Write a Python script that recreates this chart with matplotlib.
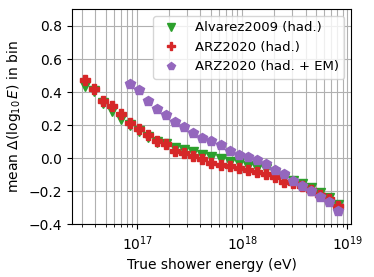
import numpy as np
import matplotlib
matplotlib.use('Agg')
from matplotlib import pyplot as plt

# bin edges in log10(E), points drawn at the lower edge
log_e = np.linspace(16.5, 19, 30)[:-1]
energy = 10 ** log_e

alvarez_had = [0.435, 0.405, 0.334, 0.283, 0.237, 0.202, 0.162, 0.131, 0.101, 0.085,
               0.062, 0.052, 0.038, 0.020, 0.008, -0.002, -0.020, -0.030, -0.045, -0.057,
               -0.068, -0.090, -0.118, -0.135, -0.158, -0.178, -0.210, -0.240, -0.283]
arz_had = [0.475, 0.420, 0.348, 0.314, 0.265, 0.216, 0.176, 0.140, 0.107, 0.089,
           0.044, 0.030, 0.016, -0.004, -0.030, -0.043, -0.047, -0.057, -0.071, -0.083,
           -0.094, -0.114, -0.142, -0.152, -0.170, -0.195, -0.221, -0.248, -0.290]
# had. + EM starts at the sixth bin
arz_had_em = [0.450, 0.411, 0.348, 0.300, 0.263, 0.222, 0.186, 0.152, 0.125, 0.107,
              0.078, 0.045, 0.022, 0.007, -0.012, -0.036, -0.069, -0.098, -0.138, -0.165,
              -0.201, -0.233, -0.264, -0.320]

fig = plt.figure(figsize=(3.74, 2.77), dpi=100)
ax = fig.add_axes([0.1925, 0.19, 0.746, 0.776])

ax.plot(energy, alvarez_had, 'v', color='C2', markersize=7, label='Alvarez2009 (had.)')
ax.plot(energy, arz_had, 'P', color='C3', markersize=7, label='ARZ2020 (had.)')
ax.plot(energy[5:], arz_had_em, 'p', color='C4', markersize=7.5, label='ARZ2020 (had. + EM)')

ax.set_xscale('log')
ax.set_ylim(-0.4, 0.9)
ax.set_yticks([-0.4, -0.2, 0.0, 0.2, 0.4, 0.6, 0.8])
ax.grid(which='both', axis='x')
ax.grid(which='major', axis='y')
ax.set_axisbelow(True)
ax.set_xlabel('True shower energy (eV)')
ax.set_ylabel(r'mean $\Delta(\log_{10}E)$ in bin')
ax.legend(loc='upper right', numpoints=1, markerscale=0.75, fontsize=9.5)

fig.savefig('out.png', dpi=100)
